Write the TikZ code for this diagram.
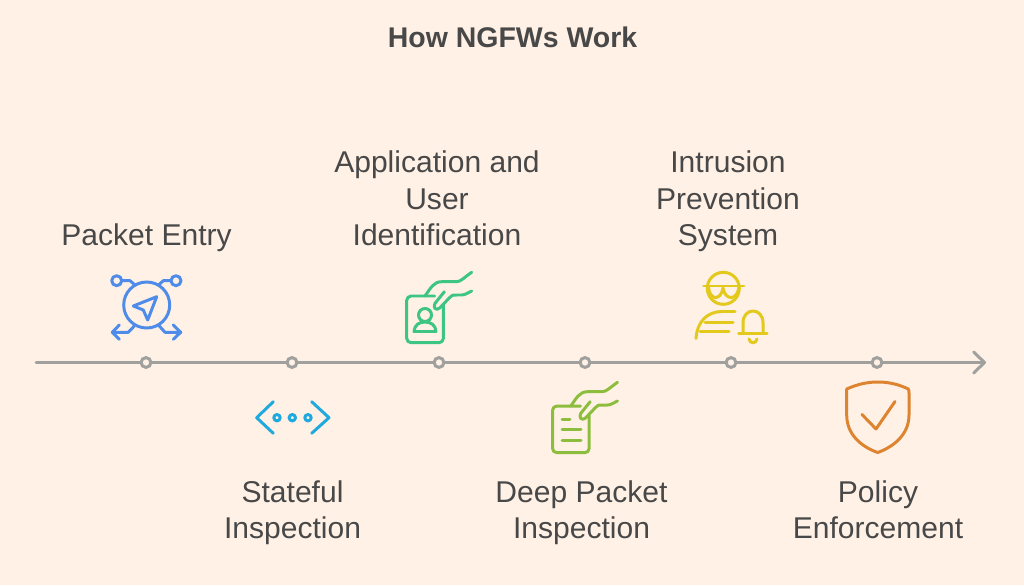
\documentclass[tikz,border=0pt]{standalone}
\usepackage{fontspec}
\setmainfont{Liberation Sans}
\usetikzlibrary{arrows.meta}
\definecolor{paper}{HTML}{FFF1E5}
\definecolor{inktext}{HTML}{484848}
\definecolor{axisgrey}{HTML}{A0A09E}
\definecolor{iconblue}{HTML}{4F8CEA}
\definecolor{iconcyan}{HTML}{1FA9DE}
\definecolor{icongreen}{HTML}{3CC583}
\definecolor{iconlime}{HTML}{8DBD3C}
\definecolor{iconyellow}{HTML}{E2C91C}
\definecolor{iconorange}{HTML}{DE8431}
\tikzset{
  steplabel/.style={anchor=base,align=center,text=inktext,font=\fontsize{17.1}{20.7}\selectfont},
  stepdot/.style={circle,draw=axisgrey,fill=paper,line width=1.7pt,minimum size=5.6pt,inner sep=0pt},
  iconline/.style={line width=1.7pt,line cap=round,line join=round},
  handcard/.pic={
    \draw [rounded corners=2.5pt] (28,0)--(0,0)--(0,46.7)--(36.7,46.7)--(36.7,9);
    \draw (18.3,0) .. controls (24,-8) and (27,-14.3) .. (35,-14.3) -- (50,-14.3) .. controls (54,-14.3) and (58,-19) .. (65,-23.7);
    \draw (37.7,-4.3) -- (28.3,7.3) .. controls (26,11) and (29,15.5) .. (33,12) -- (43,1.5) .. controls (45,-1) and (46,-1) .. (50,-1) -- (55,-1) .. controls (58,-1) and (61,-3) .. (65,-5);
  }
}
\begin{document}
\begin{tikzpicture}[x=0.02cm,y=-0.02cm]
  \fill [paper] (0,0) rectangle (1024,585);
  \useasboundingbox (0,0) rectangle (1024,585);
  \node [text=inktext,font=\fontsize{16.2}{20}\selectfont\bfseries] (title) at (512.5,37) {How NGFWs Work};

  % timeline
  \coordinate (axisstart) at (36,362.5);
  \coordinate (axisend) at (986,362.5);
  \draw [axisgrey,line width=1.7pt,line cap=round,-{Straight Barb[length=6.2pt,width=12pt,round]}] (axisstart) -- (axisend);
  \node [stepdot] (dotentry) at (146,362.5) {};
  \node [stepdot] (dotstate) at (292,362.5) {};
  \node [stepdot] (dotapp) at (439,362.5) {};
  \node [stepdot] (dotdeep) at (585,362.5) {};
  \node [stepdot] (dotips) at (731,362.5) {};
  \node [stepdot] (dotpolicy) at (877,362.5) {};

  % labels
  \node [steplabel] (entry) at (146.5,245.5) {Packet Entry};
  \node [steplabel] (state) at (292.5,538.5) {Stateful\\Inspection};
  \node [steplabel] (app) at (437,245.5) {Application and\\User\\Identification};
  \node [steplabel] (deep) at (581.5,538.5) {Deep Packet\\Inspection};
  \node [steplabel] (ips) at (728,245.5) {Intrusion\\Prevention\\System};
  \node [steplabel] (policy) at (878,538.5) {Policy\\Enforcement};

  % packet entry icon
  \begin{scope}[iconline,iconblue]
    \draw (146.7,305) circle (23);
    \draw (116.7,280.7) circle (5);
    \draw (176,280.7) circle (5);
    \draw (121.7,280.7) -- (130,280.7) -- (135,285);
    \draw (171,280.7) -- (163.3,280.7) -- (158.5,285);
    \draw (134.3,326) -- (128.3,332.3) -- (112.3,332.3);
    \draw (119.3,325) -- (112.3,332.3) -- (119.3,339.3);
    \draw (159.3,326) -- (165,332.3) -- (180.7,332.3);
    \draw (173.3,325) -- (180.7,332.3) -- (173.3,339.3);
    \draw (133.3,306) -- (156.7,296.7) -- (147.7,320) -- (143.3,310) -- cycle;
  \end{scope}

  % stateful icon
  \begin{scope}[iconline,iconcyan]
    \draw (273.3,401.7) -- (256.7,417.7) -- (273.3,433.3);
    \draw (311.7,401.7) -- (329,417.7) -- (311.7,433.3);
    \draw (277,417.7) circle (3.2);
    \draw (292.3,417.7) circle (3.2);
    \draw (308,417.7) circle (3.2);
  \end{scope}

  % application icon
  \begin{scope}[iconline,icongreen]
    \pic at (406.7,296) {handcard};
    \draw (425,315) circle (6.5);
    \draw (414,331.5) .. controls (414.5,325) and (419,322) .. (425,322) .. controls (431,322) and (435.5,325) .. (436,331.5) -- cycle;
  \end{scope}

  % deep packet icon
  \begin{scope}[iconline,iconlime]
    \pic at (552.5,406) {handcard};
    \draw (562,419) -- (570,419);
    \draw (562,429.5) -- (581,429.5);
    \draw (562,440) -- (581,440);
  \end{scope}

  % intrusion icon
  \begin{scope}[iconline,iconyellow]
    \draw (723.3,288.3) circle (16);
    \draw (703.5,286) -- (744,286);
    \draw (708.5,286) .. controls (709,301) and (721,301) .. (723,288) .. controls (725,301) and (738,301) .. (739,286);
    \draw (696,338.5) .. controls (697,322) and (707,311.5) .. (722,311.5) -- (735,311.5);
    \draw (705,322.7) -- (733,322.7);
    \draw (700,331.7) -- (729,331.7);
    \draw (738.5,333.5) -- (767,333.5);
    \draw (743,333.5) -- (743,323) .. controls (743,307) and (763,307) .. (763,323) -- (763,333.5);
    \draw (749,339) .. controls (750,344) and (756,344) .. (757,339);
  \end{scope}

  % policy icon
  \begin{scope}[iconline,iconorange]
    \draw (846.7,389) .. controls (858,384) and (868,382) .. (877.7,382) .. controls (888,382) and (898,384) .. (908.3,389) .. controls (909,390) and (909,391) .. (909,393) -- (909,415) .. controls (909,435) and (893,447) .. (877.7,452.5) .. controls (862,447) and (846.7,435) .. (846.7,415) -- (846.7,393) .. controls (846.7,391) and (846.7,390) .. (846.7,389);
    \draw (862,414.5) -- (876,429) -- (895,401.5);
  \end{scope}
\end{tikzpicture}
\end{document}
